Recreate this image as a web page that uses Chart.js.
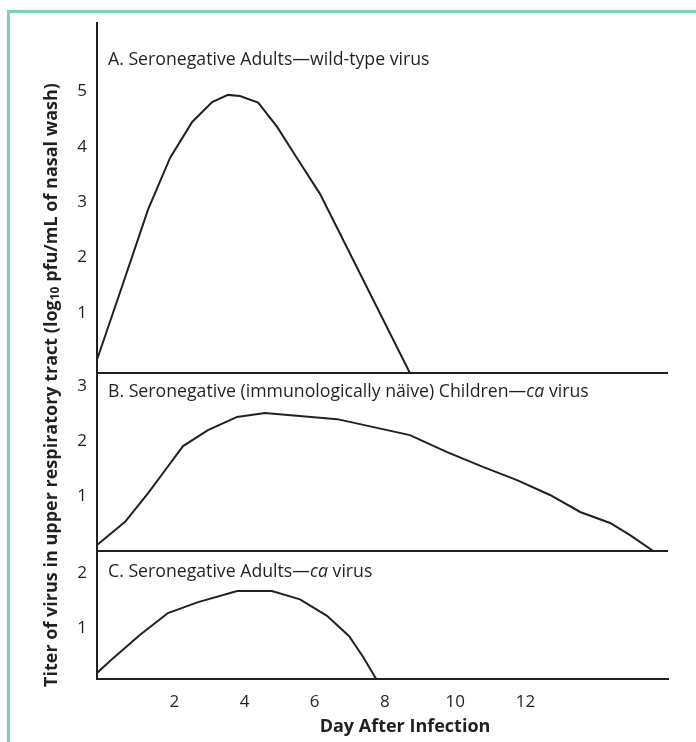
<!DOCTYPE html>
<html>
<head>
<meta charset="utf-8">
<script src="https://cdn.jsdelivr.net/npm/chart.js@4"></script>
<style>
  html, body { margin: 0; padding: 0; background: #fff; overflow: hidden; }
  #frame { position: absolute; left: 7px; top: 10px; width: 900px; height: 900px;
           border: 3px solid #7ccfb1; box-sizing: border-box; }
  #wrap { position: absolute; left: 0; top: 0; width: 696px; height: 742px; }
</style>
</head>
<body>
<div id="frame"></div>
<div id="wrap"><canvas id="c" width="696" height="742"></canvas></div>
<script>
// Virus titer (log10 pfu/mL) by day after infection, three groups
const daysA  = [-0.2, 0.51, 1.25, 1.88, 2.51, 3.08, 3.53, 3.87, 4.39, 4.93, 5.52, 6.15, 8.71];
const titerA = [0.24, 1.56, 2.95, 3.89, 4.54, 4.90, 5.03, 5.01, 4.89, 4.45, 3.86, 3.24, 0];

const daysB  = [-0.2, 0.60, 1.25, 1.74, 2.25, 2.96, 3.79, 4.58, 6.64, 8.71, 9.77, 10.79, 11.76, 12.70, 13.56, 14.41, 14.98, 15.64];
const titerB = [0.11, 0.53, 1.05, 1.47, 1.91, 2.20, 2.44, 2.51, 2.40, 2.11, 1.80, 1.53, 1.29, 1.02, 0.71, 0.51, 0.29, 0];

const daysC  = [-0.2, 0.26, 1.02, 1.82, 2.68, 3.79, 4.78, 5.58, 6.35, 6.98, 7.38, 7.75];
const titerC = [0.11, 0.38, 0.80, 1.20, 1.40, 1.60, 1.60, 1.45, 1.15, 0.78, 0.40, 0];

// Tick labels
const dayTicks = [2, 4, 6, 8, 10, 12];
const ticksA = [1, 2, 3, 4, 5];
const ticksB = [1, 2, 3];
const ticksC = [1, 2];

// Panel headings (text, italic)
const panelTitles = {
  yA: [['A. Seronegative Adults\u2014wild-type virus', false]],
  yB: [['B. Seronegative (immunologically n\u00e4ive) Children\u2014', false], ['ca', true], [' virus', false]],
  yC: [['C. Seronegative Adults\u2014', false], ['ca', true], [' virus', false]]
};
const yTitle = [['Titer of virus in upper respiratory tract (log', false], ['10', true], [' pfu/mL of nasal wash)', false]];
const xTitle = 'Day After Infection';

const INK = '#231f20';
const FONT = '"Open Sans", "Noto Sans", sans-serif';

const toPoints = (xs, ys) => xs.map((d, i) => ({ x: d, y: ys[i] }));

function panelAxis(tickVals, maxVal, weight, offset) {
  return {
    type: 'linear',
    position: 'left',
    stack: 'panels',
    stackWeight: weight,
    min: 0,
    max: maxVal,
    afterBuildTicks: (s) => { s.ticks = [0, ...tickVals].map(v => ({ value: v })); },
    afterFit: (s) => { s.width = 97; },
    ticks: {
      color: INK,
      font: { family: FONT, size: 17 },
      padding: 10,
      labelOffset: offset,
      callback: (v) => (v === 0 ? '' : String(v))
    },
    grid: {
      drawTicks: false,
      lineWidth: 2,
      color: (c) => (c.tick && c.tick.value === 0 ? INK : 'rgba(0,0,0,0)')
    },
    border: { display: true, color: INK, width: 2 }
  };
}

const annotate = {
  id: 'annotate',
  afterDraw(chart) {
    const ctx = chart.ctx;
    ctx.save();
    ctx.fillStyle = INK;
    ctx.textBaseline = 'middle';
    ctx.textAlign = 'left';

    // panel headings
    const headDy = { yA: 37, yB: 19, yC: 21 };
    for (const id of Object.keys(panelTitles)) {
      const sc = chart.scales[id];
      let x = 108;
      const y = sc.top + headDy[id];
      for (const [txt, it] of panelTitles[id]) {
        ctx.font = (it ? 'italic ' : '') + '17.7px ' + FONT;
        ctx.fillText(txt, x, y);
        x += ctx.measureText(txt).width;
      }
    }

    // rotated y-axis title with subscript
    ctx.save();
    ctx.translate(52, 385);
    ctx.rotate(-Math.PI / 2);
    let total = 0;
    for (const [txt, sub] of yTitle) {
      ctx.font = 'bold ' + (sub ? 12 : 18) + 'px ' + FONT;
      total += ctx.measureText(txt).width;
    }
    let x = -total / 2;
    for (const [txt, sub] of yTitle) {
      ctx.font = 'bold ' + (sub ? 12 : 18) + 'px ' + FONT;
      ctx.fillText(txt, x, sub ? 4 : 0);
      x += ctx.measureText(txt).width;
    }
    ctx.restore();

    // x-axis title
    ctx.font = 'bold 18px ' + FONT;
    ctx.textAlign = 'center';
    ctx.fillText(xTitle, 405, 727);
    ctx.restore();
  }
};

const lineStyle = { borderColor: INK, borderWidth: 2, pointRadius: 0, tension: 0, fill: false };

new Chart(document.getElementById('c'), {
  type: 'line',
  data: {
    datasets: [
      { label: 'A', data: toPoints(daysA, titerA), yAxisID: 'yA', ...lineStyle },
      { label: 'B', data: toPoints(daysB, titerB), yAxisID: 'yB', ...lineStyle },
      { label: 'C', data: toPoints(daysC, titerC), yAxisID: 'yC', ...lineStyle }
    ]
  },
  options: {
    responsive: false,
    animation: false,
    devicePixelRatio: 1,
    layout: { padding: { top: 23, right: 28, bottom: 0, left: 0 } },
    plugins: { legend: { display: false }, tooltip: { enabled: false }, title: { display: false } },
    scales: {
      x: {
        type: 'linear',
        min: -0.2,
        max: 16.06,
        afterBuildTicks: (s) => { s.ticks = dayTicks.map(v => ({ value: v })); },
        afterFit: (s) => { s.height = 63; },
        ticks: { color: INK, font: { family: FONT, size: 17 }, padding: 13, maxRotation: 0 },
        grid: { display: false, drawTicks: false },
        border: { display: true, color: INK, width: 2 }
      },
      yC: panelAxis(ticksC, 2.33, 128, 4),
      yB: panelAxis(ticksB, 3.24, 178, 0),
      yA: panelAxis(ticksA, 6.33, 350, -5)
    }
  },
  plugins: [annotate]
});
</script>
</body>
</html>
